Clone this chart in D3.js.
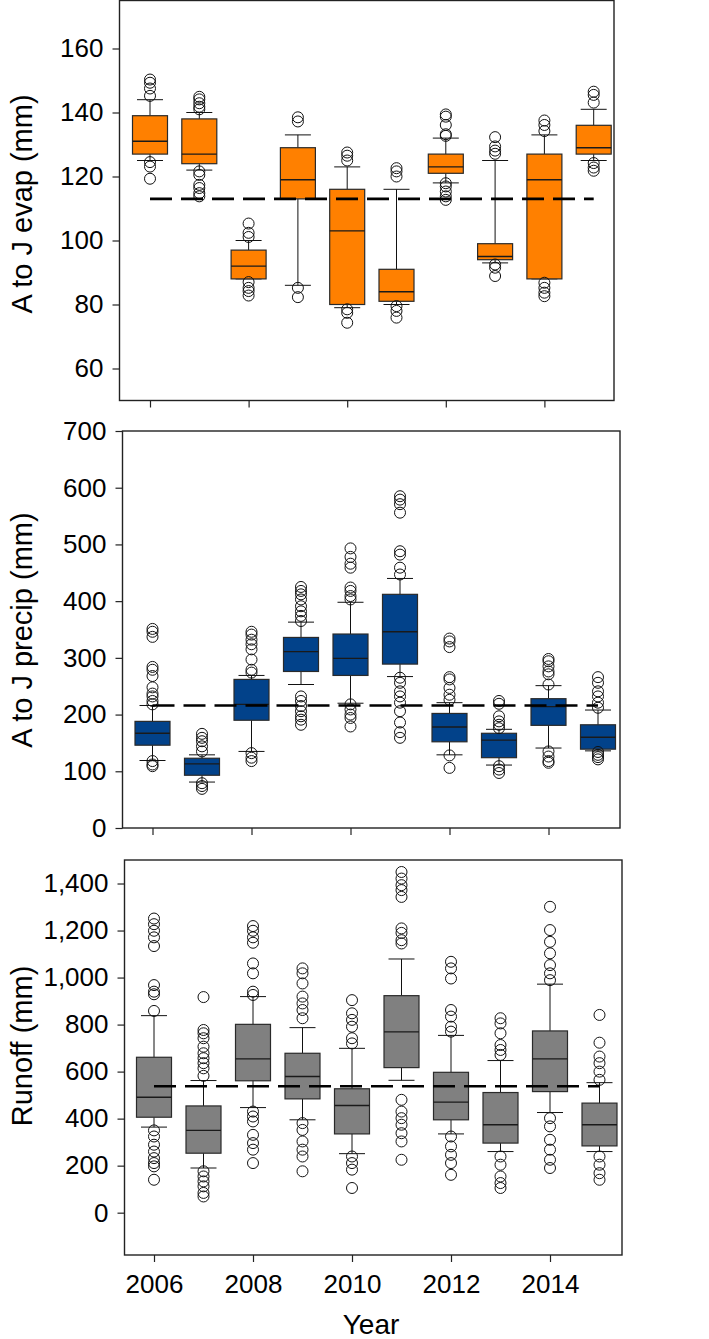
<!DOCTYPE html>
<html>
<head>
<meta charset="utf-8">
<script src="https://cdn.jsdelivr.net/npm/d3@7"></script>
<style>
  html, body { margin: 0; padding: 0; background: #fff; }
  svg { display: block; }
  text { font-family: "Liberation Sans", Arial, Helvetica, sans-serif; fill: #000; }
</style>
</head>
<body>
<svg id="chart" width="709" height="1339"></svg>
<script>
// ---------------- DATA ----------------
const years = [2006, 2007, 2008, 2009, 2010, 2011, 2012, 2013, 2014, 2015];
const xTickYears = [2006, 2008, 2010, 2012, 2014];

// April-to-June evaporation (mm)
const evapQ1  = [127, 124, 88, 113, 80, 81, 121, 94, 88, 127];
const evapMed = [131, 127, 92, 119, 103, 84, 123, 95, 119, 129];
const evapQ3  = [139, 138, 97, 129, 116, 91, 127, 99, 127, 136];
const evapLo  = [125, 122, 88, 86, 79, 80, 118, 93, 88, 125];
const evapHi  = [144, 140, 100, 133, 123, 116, 132, 125, 133, 141];
const evapOut = [
  [150.3, 149.3, 147.5, 145.2, 124.5, 123.1, 119.3],
  [144.9, 144.1, 142.9, 141.8, 141.0, 121.6, 120.5, 117.4, 116.4, 114.8, 113.8],
  [105.3, 102.4, 101.1, 87.0, 85.2, 84.2, 82.8],
  [138.5, 137.2, 85.2, 82.3],
  [127.5, 126.5, 125.0, 78.5, 77.4, 74.3],
  [122.6, 121.6, 120.0, 79.5, 78.0, 75.9],
  [139.4, 138.7, 136.1, 133.2, 132.7, 117.9, 116.9, 115.3, 113.8, 112.7],
  [132.3, 129.4, 128.1, 127.1, 92.5, 91.5, 88.9],
  [137.5, 136.1, 134.2, 86.8, 85.2, 83.7, 82.6],
  [146.5, 145.5, 143.1, 124.2, 122.8, 121.8]
];
const evapMean = 113;
const evapTicks = [60, 80, 100, 120, 140, 160];

// April-to-June precipitation (mm)
const precipQ1  = [146, 93, 190, 276, 269, 289, 152, 124, 181, 139];
const precipMed = [167, 113, 218, 311, 299, 346, 178, 155, 214, 160];
const precipQ3  = [188, 123, 262, 336, 342, 412, 202, 167, 228, 182];
const precipLo  = [119, 81, 135, 253, 220, 267, 129, 111, 141, 136];
const precipHi  = [216, 129, 269, 363, 398, 440, 221, 174, 251, 208];
const precipOut = [
  [351, 346, 337, 284, 279, 268, 248, 237, 232, 224, 218, 118, 112, 109],
  [166, 159, 153, 144, 135, 79, 74, 69],
  [346, 341, 332, 324, 315, 297, 279, 274, 132, 124, 118],
  [425, 418, 412, 403, 391, 382, 374, 365, 232, 224, 215, 206, 197, 191, 182],
  [493, 478, 466, 459, 424, 418, 409, 403, 218, 209, 200, 194, 179],
  [585, 579, 571, 556, 488, 482, 459, 447, 265, 256, 241, 232, 221, 206, 186, 169, 159],
  [334, 329, 319, 266, 262, 247, 235, 226, 128, 106],
  [224, 219, 197, 188, 182, 176, 109, 103, 97],
  [298, 294, 285, 276, 271, 253, 135, 126, 118, 115],
  [266, 256, 241, 232, 221, 212, 134, 129, 125, 121]
];
const precipMean = 216;
const precipTicks = [0, 100, 200, 300, 400, 500, 600, 700];

// Runoff (mm)
const runoffQ1  = [406, 253, 561, 484, 335, 617, 395, 296, 515, 284];
const runoffMed = [491, 350, 654, 579, 456, 769, 470, 374, 654, 374];
const runoffQ3  = [661, 454, 801, 678, 527, 923, 597, 511, 773, 466];
const runoffLo  = [364, 190, 447, 395, 251, 563, 335, 260, 426, 260];
const runoffHi  = [838, 562, 919, 787, 699, 1079, 754, 647, 972, 553];
const runoffOut = [
  [1251, 1227, 1199, 1171, 1134, 968, 940, 929, 858, 350, 324, 289, 260, 232, 211, 197, 140],
  [917, 777, 763, 742, 706, 678, 657, 636, 614, 582, 176, 154, 133, 112, 84, 69],
  [1219, 1199, 1171, 1148, 1060, 1018, 940, 926, 430, 409, 388, 331, 296, 268, 211],
  [1039, 1018, 975, 919, 890, 862, 827, 381, 352, 303, 268, 239, 176],
  [904, 848, 820, 791, 742, 720, 239, 211, 183, 105],
  [1449, 1421, 1393, 1372, 1343, 1209, 1190, 1159, 1145, 480, 430, 402, 374, 338, 303, 225],
  [1067, 1039, 996, 862, 834, 791, 770, 324, 282, 246, 211, 161],
  [827, 805, 763, 713, 692, 671, 239, 204, 154, 126, 105],
  [1301, 1202, 1152, 1103, 1053, 1018, 989, 402, 367, 310, 268, 225, 190],
  [841, 723, 664, 636, 600, 565, 239, 204, 168, 140]
];
const runoffMean = 538;
const runoffTicks = [0, 200, 400, 600, 800, 1000, 1200, 1400];

// ---------------- PANELS ----------------
const panels = [
  { title: "A to J evap (mm)", q1: evapQ1, med: evapMed, q3: evapQ3, lo: evapLo, hi: evapHi,
    out: evapOut, mean: evapMean, ticks: evapTicks, domain: [50, 175], fmt: d3.format("d"),
    fill: "#FF8000", left: 119.5, right: 614, top: 0.5, bottom: 400.5, x0: 150, step: 49.3,
    titleY: 204, xLabels: false },
  { title: "A to J precip (mm)", q1: precipQ1, med: precipMed, q3: precipQ3, lo: precipLo, hi: precipHi,
    out: precipOut, mean: precipMean, ticks: precipTicks, domain: [0, 700], fmt: d3.format("d"),
    fill: "#02428A", left: 122.5, right: 620, top: 431, bottom: 828, x0: 152.5, step: 49.5,
    titleY: 630, xLabels: false },
  { title: "Runoff (mm)", q1: runoffQ1, med: runoffMed, q3: runoffQ3, lo: runoffLo, hi: runoffHi,
    out: runoffOut, mean: runoffMean, ticks: runoffTicks, domain: [-180, 1500], fmt: d3.format(","),
    fill: "#808080", left: 124.5, right: 622, top: 860, bottom: 1255, x0: 154, step: 49.5,
    titleY: 1046, xLabels: true }
];

const svg = d3.select("#chart");
const boxW = 35, capW = 26, rOut = 5.5;
const fontSize = 26;

panels.forEach(p => {
  const g = svg.append("g");
  const x = d3.scaleLinear().domain([2006, 2015]).range([p.x0, p.x0 + 9 * p.step]);
  const y = d3.scaleLinear().domain(p.domain).range([p.bottom, p.top]);

  // frame
  g.append("rect")
    .attr("x", p.left).attr("y", p.top)
    .attr("width", p.right - p.left).attr("height", p.bottom - p.top)
    .attr("fill", "none").attr("stroke", "#222").attr("stroke-width", 1.4);

  // y axis
  const ya = g.append("g").attr("transform", `translate(${p.left},0)`)
    .call(d3.axisLeft(y).tickValues(p.ticks).tickSize(7).tickPadding(9).tickFormat(p.fmt));
  ya.select(".domain").remove();
  ya.selectAll(".tick line").attr("stroke", "#222").attr("stroke-width", 1.2);
  ya.selectAll(".tick text").style("font-size", fontSize + "px")
    .style("font-family", '"Liberation Sans", Arial, sans-serif').attr("fill", "#000");

  // x axis
  const xa = g.append("g").attr("transform", `translate(0,${p.bottom})`)
    .call(d3.axisBottom(x).tickValues(xTickYears).tickSize(7).tickPadding(13).tickFormat(d3.format("d")));
  xa.select(".domain").remove();
  xa.selectAll(".tick line").attr("stroke", "#222").attr("stroke-width", 1.2);
  if (p.xLabels) {
    xa.selectAll(".tick text").style("font-size", fontSize + "px")
      .style("font-family", '"Liberation Sans", Arial, sans-serif').attr("fill", "#000");
  } else {
    xa.selectAll(".tick text").remove();
  }

  // y title
  g.append("text")
    .attr("transform", `translate(32,${p.titleY}) rotate(-90)`)
    .attr("text-anchor", "middle")
    .style("font-size", "29px")
    .text(p.title);

  // whiskers
  const wg = g.append("g").attr("stroke", "#111").attr("stroke-width", 1);
  years.forEach((yr, i) => {
    const cx = x(yr);
    wg.append("line").attr("x1", cx).attr("x2", cx).attr("y1", y(p.q3[i])).attr("y2", y(p.hi[i]));
    wg.append("line").attr("x1", cx).attr("x2", cx).attr("y1", y(p.q1[i])).attr("y2", y(p.lo[i]));
    wg.append("line").attr("x1", cx - capW / 2).attr("x2", cx + capW / 2).attr("y1", y(p.hi[i])).attr("y2", y(p.hi[i]));
    wg.append("line").attr("x1", cx - capW / 2).attr("x2", cx + capW / 2).attr("y1", y(p.lo[i])).attr("y2", y(p.lo[i]));
  });

  // boxes
  g.append("g").selectAll("rect").data(years).join("rect")
    .attr("x", d => x(d) - boxW / 2)
    .attr("y", (d, i) => y(p.q3[i]))
    .attr("width", boxW)
    .attr("height", (d, i) => y(p.q1[i]) - y(p.q3[i]))
    .attr("fill", p.fill).attr("stroke", "#2a2a2a").attr("stroke-width", 1.2);

  // medians
  g.append("g").selectAll("line").data(years).join("line")
    .attr("x1", d => x(d) - boxW / 2).attr("x2", d => x(d) + boxW / 2)
    .attr("y1", (d, i) => y(p.med[i])).attr("y2", (d, i) => y(p.med[i]))
    .attr("stroke", "#1a1a1a").attr("stroke-width", 1.4);

  // outliers
  const pts = [];
  years.forEach((yr, i) => p.out[i].forEach(v => pts.push({ yr, v })));
  g.append("g").selectAll("circle").data(pts).join("circle")
    .attr("cx", d => x(d.yr)).attr("cy", d => y(d.v)).attr("r", rOut)
    .attr("fill", "none").attr("stroke", "#111").attr("stroke-width", 1);

  // dashed overall mean line
  g.append("line")
    .attr("x1", x(2006)).attr("x2", x(2015))
    .attr("y1", y(p.mean)).attr("y2", y(p.mean))
    .attr("stroke", "#000").attr("stroke-width", 2.6)
    .attr("stroke-dasharray", "22,9");
});

// x title
svg.append("text")
  .attr("x", 371).attr("y", 1334)
  .attr("text-anchor", "middle")
  .style("font-size", "28px")
  .text("Year");
</script>
</body>
</html>
